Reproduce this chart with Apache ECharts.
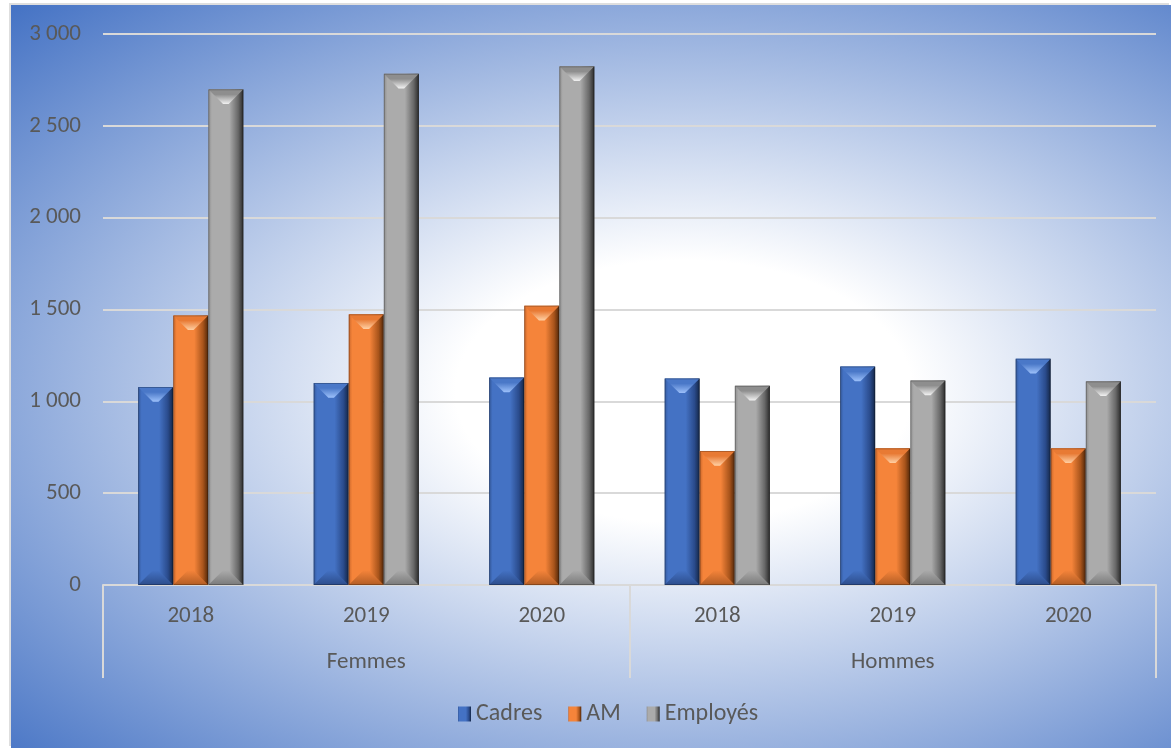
<!DOCTYPE html>
<html>
<head>
<meta charset="utf-8">
<script src="https://cdn.jsdelivr.net/npm/echarts@6/dist/echarts.min.js"></script>
<style>
    html, body { margin: 0; padding: 0; background: #ffffff; }
    #chart {
        position: absolute;
        left: 11px;
        top: 5px;
        width: 1160px;
        height: 743px;
        box-shadow: -2px -2px 0 #dedede;
        background: radial-gradient(ellipse farthest-corner at 58% 52%, #ffffff 0%, #ffffff 24%, #4472c4 100%);
    }
</style>
</head>
<body>
<div id="chart"></div>
<script>
// data
var years = ['2018', '2019', '2020', '2018', '2019', '2020'];
var groups = ['Femmes', 'Hommes'];
var seriesNames = ['Cadres', 'AM', 'Employés'];
var cadres = [1078, 1100, 1130, 1125, 1190, 1232];
var am = [1468, 1474, 1521, 730, 744, 744];
var employes = [2699, 2784, 2824, 1085, 1114, 1109];

var yMax = 3000;
var yStep = 500;

// bevel colours per series
var palette = [
    {main: '#4472c4', edge: '#34599c', top: '#4a78c8', light: '#9cc0fa', shade: '#2a4b8c', deep: '#142646', base: '#2c4d8c'},
    {main: '#f5843a', edge: '#c9662a', top: '#e87a34', light: '#ffd0a4', shade: '#a8541b', deep: '#4f2609', base: '#b35d24'},
    {main: '#ababab', edge: '#8c8c8c', top: '#8e8e8e', light: '#f2f2f2', shade: '#686868', deep: '#2a2a2a', base: '#7a7a7a'}
];

var textColor = '#595959';
var font = 'Carlito, Lato, sans-serif';

function hGrad(p) {
    return new echarts.graphic.LinearGradient(0, 0, 1, 0, [
        {offset: 0, color: p.edge},
        {offset: 0.1, color: p.main},
        {offset: 0.6, color: p.main},
        {offset: 0.85, color: p.shade},
        {offset: 1, color: p.deep}
    ]);
}

function renderBar(k) {
    return function (params, api) {
        var top = api.coord([api.value(0), api.value(1)]);
        var base = api.coord([api.value(0), 0]);
        var band = api.size([1, 0])[0];
        var w = band * 0.2;
        var x0 = top[0] + (k - 1.5) * w;
        var x1 = x0 + w;
        var yT = top[1];
        var yB = base[1];
        var h = yB - yT;
        var b = Math.min(w * 0.42, h / 2);
        var p = palette[k];
        return {
            type: 'group',
            children: [
                {
                    type: 'rect',
                    shape: {x: x0, y: yT, width: w, height: h},
                    style: {fill: hGrad(p)}
                },
                {
                    type: 'polygon',
                    shape: {points: [[x0, yT], [x1, yT], [x1 - b, yT + b], [x0 + b, yT + b]]},
                    style: {
                        fill: new echarts.graphic.LinearGradient(0, 0, 0, 1, [
                            {offset: 0, color: p.top},
                            {offset: 0.35, color: p.top},
                            {offset: 1, color: p.light}
                        ])
                    }
                },
                {
                    type: 'polygon',
                    shape: {points: [[x0, yB], [x1, yB], [x1 - b, yB - b], [x0 + b, yB - b]]},
                    style: {
                        fill: new echarts.graphic.LinearGradient(0, 0, 0, 1, [
                            {offset: 0, color: p.main},
                            {offset: 1, color: p.base}
                        ])
                    }
                },
                {
                    type: 'rect',
                    shape: {x: x0 + 0.5, y: yT + 0.5, width: w - 1, height: h - 1},
                    style: {fill: null, stroke: 'rgba(0,0,0,0.25)', lineWidth: 1}
                }
            ]
        };
    };
}

function pairs(values) {
    var out = [];
    for (var i = 0; i < values.length; i++) {
        out.push([i, values[i]]);
    }
    return out;
}

function thousands(v) {
    return String(v).replace(/\B(?=(\d{3})+(?!\d))/g, ' ');
}

var allValues = [cadres, am, employes];
var series = [];
for (var k = 0; k < seriesNames.length; k++) {
    series.push({
        name: seriesNames[k],
        type: 'custom',
        xAxisIndex: 0,
        renderItem: renderBar(k),
        encode: {x: 0, y: 1},
        itemStyle: {color: hGrad(palette[k])},
        data: pairs(allValues[k])
    });
}

var chart = echarts.init(document.getElementById('chart'));
chart.setOption({
    animation: false,
    backgroundColor: 'transparent',
    textStyle: {fontFamily: font},
    grid: {left: 92, right: 15, top: 29, bottom: 163},
    legend: {
        data: seriesNames,
        bottom: 17,
        left: 442,
        icon: 'rect',
        itemWidth: 13,
        itemHeight: 15,
        itemGap: 26,
        textStyle: {color: textColor, fontSize: 24, fontFamily: font}
    },
    xAxis: [
        {
            type: 'category',
            position: 'bottom',
            data: years,
            axisLine: {show: true, lineStyle: {color: '#d9d9d9', width: 2}},
            axisTick: {show: false},
            axisLabel: {color: textColor, fontSize: 23, margin: 20, fontFamily: font}
        },
        {
            type: 'category',
            position: 'bottom',
            data: groups,
            axisLine: {show: false},
            axisTick: {show: true, length: 93, lineStyle: {color: '#d9d9d9', width: 2}},
            axisLabel: {color: textColor, fontSize: 23, margin: 66, fontFamily: font}
        }
    ],
    yAxis: {
        type: 'value',
        min: 0,
        max: yMax,
        interval: yStep,
        axisLine: {show: false},
        axisTick: {show: false},
        splitLine: {lineStyle: {color: '#d9d9d9', width: 2}},
        axisLabel: {color: textColor, fontSize: 23, margin: 22, fontFamily: font, formatter: thousands}
    },
    series: series
});
</script>
</body>
</html>
